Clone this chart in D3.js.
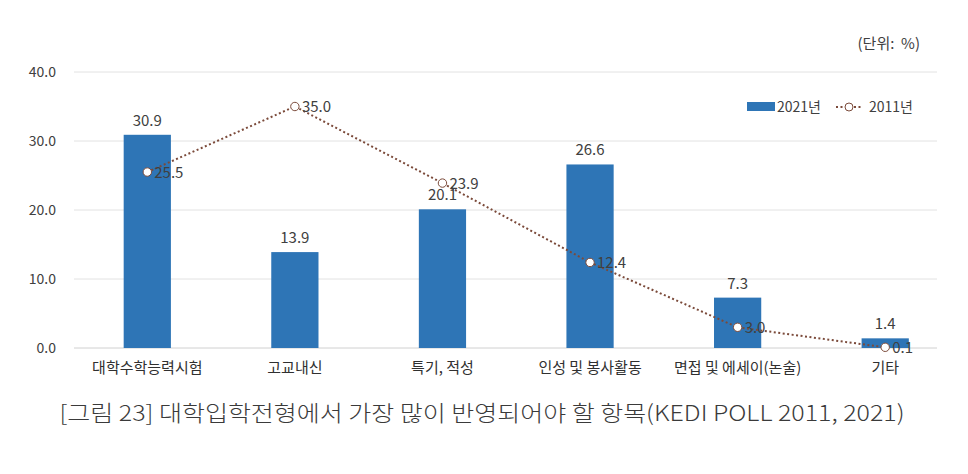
<!DOCTYPE html>
<html><head><meta charset="utf-8">
<script src="https://cdn.jsdelivr.net/npm/d3@7/dist/d3.min.js"></script>
<style>body{margin:0;background:#fff}svg{display:block}</style>
</head><body>
<svg id="c" width="968" height="474"></svg>
<script>
const categories = ["대학수학능력시험","고교내신","특기, 적성","인성 및 봉사활동","면접 및 에세이(논술)","기타"];
const values2021 = [30.9, 13.9, 20.1, 26.6, 7.3, 1.4];
const values2011 = [25.5, 35.0, 23.9, 12.4, 3.0, 0.1];
const yTicks = [0, 10, 20, 30, 40];
const seriesNames = ["2021년", "2011년"];
const unitLabel = "(단위:  %)";
const caption = "[그림 23] 대학입학전형에서 가장 많이 반영되어야 할 항목(KEDI POLL 2011, 2021)";

const svg = d3.select("#c");
const font = "'Malgun Gothic','Noto Sans CJK KR',sans-serif";
const x = d3.scaleBand().domain(categories).range([73.5, 959]).paddingInner(0.68).paddingOuter(0.34);
const y = d3.scaleLinear().domain([0, 40]).range([348, 72]);
const barColor = "#2E75B6", lineColor = "#7B4A3A", textColor = "#404040";

// grid
svg.append("g").selectAll("line").data(yTicks).join("line")
  .attr("x1", 74).attr("x2", 937).attr("y1", d => y(d)).attr("y2", d => y(d))
  .attr("stroke", d => d === 0 ? "#d0d0d0" : "#e2e2e2").attr("stroke-width", 1);

// y axis
const yAxis = d3.axisLeft(y).tickValues(yTicks).tickFormat(d3.format(".1f")).tickSize(0).tickPadding(0);
const ya = svg.append("g").attr("transform", "translate(56,0)").call(yAxis);
ya.select(".domain").remove();
ya.selectAll("text").attr("font-family", font).attr("font-size", 14).attr("fill", textColor);

// x axis labels
const xa = svg.append("g").attr("transform", "translate(0,348)").call(d3.axisBottom(x).tickSize(0).tickPadding(14));
xa.select(".domain").remove();
xa.selectAll("text").attr("font-family", font).attr("font-size", 15).attr("fill", "#303030");

// bars
svg.append("g").selectAll("rect").data(categories).join("rect")
  .attr("x", d => x(d)).attr("width", x.bandwidth())
  .attr("y", (d, i) => y(values2021[i])).attr("height", (d, i) => y(0) - y(values2021[i]))
  .attr("fill", barColor);

svg.append("g").selectAll("text").data(categories).join("text")
  .attr("x", d => x(d) + x.bandwidth() / 2).attr("y", (d, i) => y(values2021[i]) - 9)
  .attr("text-anchor", "middle").attr("font-family", font).attr("font-size", 15).attr("fill", textColor)
  .text((d, i) => values2021[i].toFixed(1));

// line
const cx = d => x(d) + x.bandwidth() / 2;
const line = d3.line().x((d, i) => cx(categories[i])).y(d => y(d));
svg.append("path").datum(values2011).attr("d", line).attr("fill", "none")
  .attr("stroke", lineColor).attr("stroke-width", 2).attr("stroke-dasharray", "2,2.5");
svg.append("g").selectAll("circle").data(values2011).join("circle")
  .attr("cx", (d, i) => cx(categories[i])).attr("cy", d => y(d)).attr("r", 4.2)
  .attr("fill", "#fff").attr("stroke", lineColor).attr("stroke-width", 1);
svg.append("g").selectAll("text").data(values2011).join("text")
  .attr("x", (d, i) => cx(categories[i]) + 7).attr("y", d => y(d) + 5.5)
  .attr("font-family", font).attr("font-size", 15).attr("fill", textColor)
  .text(d => d.toFixed(1));

// legend
const lg = svg.append("g");
lg.append("rect").attr("x", 747).attr("y", 102).attr("width", 28).attr("height", 9).attr("fill", barColor);
lg.append("text").attr("x", 777).attr("y", 112).attr("font-family", font).attr("font-size", 14).attr("fill", textColor).text(seriesNames[0]);
lg.append("line").attr("x1", 836).attr("x2", 862).attr("y1", 107).attr("y2", 107)
  .attr("stroke", lineColor).attr("stroke-width", 2).attr("stroke-dasharray", "2,2.5");
lg.append("circle").attr("cx", 849).attr("cy", 107).attr("r", 4).attr("fill", "#fff").attr("stroke", lineColor);
lg.append("text").attr("x", 869).attr("y", 112).attr("font-family", font).attr("font-size", 14).attr("fill", textColor).text(seriesNames[1]);

// unit
svg.append("text").attr("x", 920).attr("y", 49).attr("text-anchor", "end")
  .style("white-space", "pre")
  .attr("font-family", font).attr("font-size", 15).attr("fill", textColor).text(unitLabel);

// caption
svg.append("text").attr("x", 482).attr("y", 421).attr("text-anchor", "middle")
  .attr("font-family", font).attr("font-size", 22).attr("font-weight", 300).attr("fill", "#3a3a3a")
  .attr("textLength", 845).attr("lengthAdjust", "spacingAndGlyphs").text(caption);
</script>
</body></html>
